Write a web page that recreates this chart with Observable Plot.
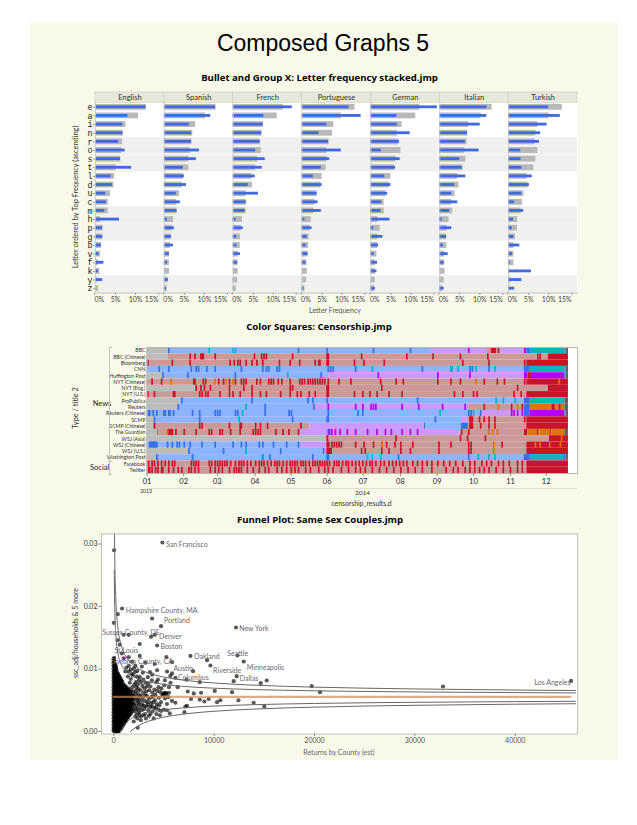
<!DOCTYPE html>
<html><head><meta charset="utf-8">
<script src="https://cdn.jsdelivr.net/npm/d3@7"></script>
<script src="https://cdn.jsdelivr.net/npm/@observablehq/plot@0.6"></script>
<style>
html,body{margin:0;padding:0;background:#fff;}
#page{position:relative;width:637px;height:825px;overflow:hidden;font-family:Lato,sans-serif;}
#panel{position:absolute;left:30px;top:22px;width:588px;height:738px;background:#f9f9ea;}
.abs{position:absolute;white-space:nowrap;}
.slot{position:absolute;}
.slot svg{display:block;background:transparent!important;overflow:visible;}
.h{font-family:"Open Sans",sans-serif;font-weight:700;font-size:9.6px;color:#000;transform:translateX(-50%);}
.t{font-size:7px;color:#555;transform:translateX(-50%);}
.r{font-size:7.4px;color:#333;transform:translate(-50%,-50%) rotate(-90deg);}
</style></head><body><div id="page"><div id="panel"></div></div>
<script>
// ---------- Bullet chart data ----------
const letters = ["e","a","i","n","r","o","s","t","l","d","u","c","m","h","p","g","b","v","f","k","y","z"];
const languages = ["English","Spanish","French","Portuguese","German","Italian","Turkish"];
const bandLetters = ["r","o","s","t","m","h","p","g","y","z"];
const englishBlue = [12.6,8.1,6.8,6.75,5.8,7.4,6.25,9,3.9,4.2,2.6,2.7,2.3,6,1.75,1.85,1.45,0.9,2.1,0.7,1.8,0.1];
const englishGray = [12.75,10.75,7.6,7,6.75,6.5,6.3,5.2,4.75,4.6,3.75,3.2,3.2,1.3,1.9,1.75,1.5,1.25,0.75,1.1,0.4,0.75];
const spanishBlue = [12.8,11.6,6.25,6.8,6.8,8.75,8,4.75,5,5.5,3,4,3.15,0.75,2.5,1.75,2.25,1.25,0.75,0,1,0.5];
const spanishGray = [12.9,10.3,7.8,7.1,6.9,6.5,6.1,6.1,4.8,4.5,3.8,3.1,3.2,2.3,2,1.75,1.5,1.3,1.25,1.3,0.9,0.7];
const frenchBlue = [14.75,7.65,7.5,7.1,6.75,5.6,8,7.25,5.5,3.75,6.3,3.25,3,0.7,2.5,0.85,0.9,1.8,1.1,0,0.1,0.15];
const frenchGray = [12.5,11,7.6,7.2,6.75,7,6.1,5.6,4.7,4.8,3.25,3.25,3.2,2.3,2,1.8,1.75,1.2,1.2,1.25,1.1,0.75];
const portugueseBlue = [11.75,14.75,6.2,4.2,6.6,9.8,6.9,4.8,2.8,5,3.75,4,4.8,0.7,2.5,1.3,1,1.5,1,0,0,0.5];
const portugueseGray = [13.2,9.8,7.9,7.6,6.8,6.2,6.2,6,5,4.7,3.75,3.2,2.9,2.3,2,1.75,1.65,1.5,1.2,1.3,1.1,0.7];
const germanBlue = [16.6,6.5,6.6,9.8,7.1,2.6,7.3,6.15,3.45,5,4.2,2.7,2.5,4.75,0.7,3,1.9,0.8,1.65,1.5,0,1.1];
const germanGray = [12.25,11.2,7.75,6.6,7,7.5,6.25,5.9,5,4.6,3.75,3.3,3.3,1.75,2.3,1.7,1.7,1.5,1.1,1.1,1.1,0.9];
const italianBlue = [11.8,11.75,10.1,6.9,6.4,9.8,5,5.6,6.5,3.75,3,4.5,2.5,0.6,3,1.65,0.9,2.1,1.1,0,0,1.1];
const italianGray = [13.1,10.3,7.25,7,6.8,6.25,6.5,5.8,4.5,4.8,3.8,3,3.25,2.3,1.9,1.75,1.75,1.2,1.2,1.3,1.1,0.75];
const turkishBlue = [10,12.9,9.6,8,7.7,3,3.1,3.3,5.9,5.2,3.3,1.5,3.75,1.2,0.9,1.3,2.8,1,0.4,5.7,3.3,1.5];
const turkishGray = [13.4,10.1,7.3,6.8,6.6,7.3,6.8,6.3,4.6,4.9,3.8,3.5,3.1,2.25,2.2,1.7,1.3,1.3,1.3,0.3,0.6,0.3];
const blueSeries = [englishBlue,spanishBlue,frenchBlue,portugueseBlue,germanBlue,italianBlue,turkishBlue];
const graySeries = [englishGray,spanishGray,frenchGray,portugueseGray,germanGray,italianGray,turkishGray];

// ---------- Censorship data (day index of the study window) ----------
const outlets = ["BBC","BBC (Chinese)","Bloomberg","CNN","Huffington Post","NYT (Chinese)","NYT (Eng.)","NYT (U.S.)","ProPublica","Reuters","Reuters (Chinese)","SCMP","SCMP (Chinese)","The Guardian","WSJ (Asia)","WSJ (Chinese)","WSJ (U.S.)","Washington Post","Facebook","Twitter"];
const stateNames = ["g","l","b","r","R","p","P","t","o","d"];
const stateColors = ["#bcbcbc","#8cb4ff","#3a6ee8","#cc9999","#c8142b","#cc99ff","#b400ff","#0ab5b5","#e07400","#606060"];
const monthTicks = [1,31.8,60.1,91.8,122,152.3,182.5,213.9,244.7,275.2,306.3,336.3];
const monthLabels = ["01","02","03","04","05","06","07","08","09","10","11","12"];
const runs = {
 "BBC":[[1,"g"],[19,"l"],[240,"p"],[287,"r"],[290,"R"],[295,"r"],[298,"p"],[318,"P"],[320,"b"],[323,"t"],[352,"b"],[353,"d"],[355]],
 "BBC (Chinese)":[[1,"g"],[19,"r"],[338,"R"],[355]],
 "Bloomberg":[[1,"r"],[320,"R"],[355]],
 "CNN":[[1,"l"],[318,"b"],[323,"t"],[352,"b"],[353,"d"],[355]],
 "Huffington Post":[[1,"g"],[14,"l"],[154,"p"],[318,"P"],[321,"R"],[324,"P"],[352,"b"],[353,"d"],[355]],
 "NYT (Chinese)":[[1,"r"],[320,"R"],[355]],
 "NYT (Eng.)":[[1,"g"],[42,"r"],[338,"R"],[355]],
 "NYT (U.S.)":[[1,"r"],[320,"R"],[355]],
 "ProPublica":[[1,"g"],[29,"l"],[318,"b"],[323,"t"],[352,"d"],[355]],
 "Reuters":[[1,"g"],[27,"l"],[142,"p"],[271,"r"],[318,"b"],[323,"o"],[341,"R"],[344,"o"],[347,"R"],[349,"o"],[352,"d"],[355]],
 "Reuters (Chinese)":[[1,"l"],[283,"p"],[318,"b"],[323,"P"],[352,"b"],[353,"d"],[355]],
 "SCMP":[[1,"g"],[7,"l"],[266,"p"],[271,"r"],[320,"R"],[355]],
 "SCMP (Chinese)":[[1,"g"],[6,"r"],[138,"p"],[234,"b"],[235,"l"],[265,"b"],[271,"r"],[320,"R"],[355]],
 "The Guardian":[[1,"g"],[10,"d"],[11,"r"],[130,"p"],[264,"r"],[318,"R"],[321,"o"],[329,"R"],[330,"o"],[340,"R"],[341,"o"],[352,"d"],[355]],
 "WSJ (Asia)":[[1,"g"],[152,"R"],[154,"r"],[339,"R"],[355]],
 "WSJ (Chinese)":[[1,"l"],[130,"p"],[152,"R"],[155,"r"],[320,"R"],[355]],
 "WSJ (U.S.)":[[1,"g"],[36,"l"],[149,"p"],[152,"R"],[157,"r"],[320,"R"],[355]],
 "Washington Post":[[1,"g"],[9,"l"],[318,"b"],[323,"t"],[351,"b"],[353,"d"],[355]],
 "Facebook":[[1,"r"],[320,"R"],[355]],
 "Twitter":[[1,"r"],[320,"R"],[355]]
};
const spikes = {
 "BBC":{b:[19,128,152,191,222],t:[53,73,75],P:[271],R:[296]},
 "BBC (Chinese)":{R:[37,41,46,47,48,58,91,97,99,101,123,152,153,181,219,241,264,287,329,331]},
 "Bloomberg":{R:[1.5,22,37,70.5,74,77,79,84,89,93,98,112,121,129,142,145,146,152,153,175,183,200,266,288,318]},
 "CNN":{b:[11,19,38,42,44,51,58,80,98,101,103,110,112,153,155,157,176,232,272,274,288,318],t:[190,256,257,262,277,293]},
 "Huffington Post":{b:[14,35,75,147],t:[119],P:[195,245,272]},
 "NYT (Chinese)":{R:[5,13,40,41,48,50,61,65,70,75,80,82,84,93,96,103,105,107,111,114,121,129,131,133,136,138,140,142,144,146,148,150,153,162,172,197,210,216,245,256,264,284,295,301,318],o:[21,58,67,73,277,347]},
 "NYT (Eng.)":{R:[42,46,49,54,70,82,89,121,123,152,153,198,312]},
 "NYT (U.S.)":{R:[1.5,7,23,24,45,47,50,52,62,70,73,79,89,96,101,113,121,127,130,137,142,152,153,175,182,188,194,204,215,259,266,275,278,309,315]},
 "ProPublica":{b:[30,89,136,140,152,228],t:[294,300,310]},
 "Reuters":{b:[27,100,141],t:[84],P:[153,176,182,189,191,193,215,229,249,268],R:[284,307,316],o:[296,312]},
 "Reuters (Chinese)":{b:[2,3,6,9,15,16,19,20,23,39,45,58,60,62,75,77,100,120,122,153,178,182,271,273,281],t:[81,247,275],P:[307,309,312,316]},
 "SCMP":{b:[7,45,123,152,153,243],t:[78],R:[272,273,274,280,284,288,293,318]},
 "SCMP (Chinese)":{R:[7,45,47,70,79,80,92,96,102,130,272,273,274,281,288,293]},
 "The Guardian":{b:[153],P:[154,156,159,163,169,176,186,194,201,206,215,222,228],R:[19,20,21,22,25,32,42,53,55,62,64,71,79,90,92,94,96,109,115,120,128,265,271],o:[18,288,291,295]},
 "WSJ (Asia)":{R:[210,264,270,285],o:[349]},
 "WSJ (Chinese)":{b:[3,4,5,6,7,8,9,18,22,26,28,32,37,47,58,73,80,84,95,98,107,118,128],R:[156,158,160,162,164,176,183,191,198,202,209,214,224,246,256,271,273,299],o:[198,292,327,331,339,348]},
 "WSJ (U.S.)":{b:[36,65,113,149],t:[84],R:[181,184,198,204,214,222,246,271,273],o:[292]},
 "Washington Post":{b:[9,39,98,104,140,152,153,212,271,318],t:[186,190,197,279,288,293]},
 "Facebook":{R:[2,5,7,10,13,16,19,22,24,38,40,42,44,53,55,58,60,62,64,66,68,71,75,78,80,82,85,88,92,95,97,99,102,105,108,110,112,115,118,121,123,125,127,130,132,134,137,140,142,144,146,148,150,152,154,158,160,162,165,168,170,173,176,179,182,185,188,190,193,197,200,204,207,210,213,216,219,224,228,232,236,240,245,250,255,260,266,272,276,282,286,290,296,300,305,312,316]},
 "Twitter":{R:[2,3,5,8,10,13,14,19,23,27,30,36,38,41,44,54,58,61,64,70,74,76,78,80,85,90,95,100,103,110,114,118,122,125,128,134,138,145,150,153,157,164,170,176,180,184,190,196,202,208,214,220,226,232,240,252,258,262,268,272,276,280,284,288,294,300,306,312,316]}
};

// ---------- Funnel data ----------
const namedCounties = ["San Francisco","Hampshire County, MA","Portland","Sussex County, DE","Denver","Boston","New York","Seattle","Minneapolis","Oakland","Riverside","Dallas","Los Angeles","St Louis","Sonoma County, CA","Austin","Columbus"];
const labelX = [5200,1200,5000,-1150,4500,4650,12500,11300,13250,8000,9900,12550,41900,70,-250,5950,6400];
const labelY = [.0299,.01935,.01765,.0158,.0152,.0135,.0164,.01245,.01025,.01195,.00965,.0085,.0078,.0129,.0112,.0101,.00865];
const outlierPts = [[4850,.03024],[30,.029],[830,.01968],[400,.01877],[10,.01739],[3820,.01808],[4710,.01685],[4080,.01547],[990,.01547],[1490,.01547],[3720,.01515],[400,.0146],[600,.0139],[4320,.01376],[2590,.014],[12180,.01664],[12320,.01216],[12950,.0112],[7640,.0121],[9300,.01141],[9630,.01056],[7900,.00965],[12250,.00885],[11950,.00805],[14640,.00773],[15240,.00816],[19720,.00725],[20550,.00629],[32800,.0072],[45560,.0081]];
const spreadPts = [[5250,.0119],[5810,.0111],[3150,.011],[4080,.0108],[1830,.0112],[1000,.0117],[1490,.0119],[2590,.0121],[5310,.0096],[5810,.0093],[4320,.0098],[2160,.0105],[1490,.0096],[3820,.0091],[5640,.0089],[6140,.0086],[7240,.0083],[8570,.0079],[15000,.004],[13940,.0046],[12420,.005],[11790,.0063],[10060,.0065],[10620,.005],[10290,.0047],[9460,.0052],[9030,.0048],[8570,.0051],[8700,.0062],[7970,.0061],[7370,.0064],[7300,.0041],[7040,.0031],[5580,.0029],[3980,.0021],[2390,.0006],[1990,.0016],[6140,.0046],[7700,.0052],[7140,.004],[6370,.0071],
[2100,.0095],[2300,.0088],[2500,.0082],[2700,.0079],[2050,.0075],[2250,.0071],[2450,.0068],[2650,.0066],[2850,.0073],[3050,.0069],[3250,.0064],[3450,.0077],[3650,.0072],[3850,.0062],[4050,.0067],[4250,.0079],[4450,.0071],[4650,.0063],[4850,.0058],[5050,.0074],[5250,.0061],[5100,.0062],[5180,.006],[5000,.0061],[5450,.0055],[5650,.0078],[5800,.0049],[2100,.006],[2300,.0056],[2500,.0052],[2700,.0058],[2900,.0054],[3100,.0049],[3300,.0057],[3500,.0052],[3700,.0046],[3900,.0056],[4100,.005],[4300,.0044],[4500,.0054],[4700,.0047],[4900,.006],[5100,.0053],[5300,.0044],[5500,.0062],[2050,.0045],[2250,.0041],[2450,.0046],[2650,.0038],[2850,.0043],[3050,.0036],[3250,.004],[3450,.0034],[3650,.0039],[3850,.0032],[4050,.0037],[4250,.0028],[4450,.0035],[5000,.0035],[2100,.0032],[2300,.0027],[2500,.0031],[2700,.0024],[2950,.0026],[3200,.0021],[3500,.0025],[1500,.0105],[1700,.0099],[1900,.009],[2000,.0101],[1400,.0088],[2800,.0104],[3400,.0087],[1700,.0084],[1250,.0102],[800,.0125],[1150,.0096],
[2200,.0065],[2400,.0061],[2600,.0056],[2750,.0049],[2950,.0062],[3150,.0058],[3350,.0047],[3550,.0066],[3750,.0055],[3950,.0047],[4150,.0059],[4350,.0065],[4550,.0042],[4750,.0069],[2150,.0052],[2350,.0049],[2550,.0043],[2800,.0034],[3000,.0041],[3400,.0043],[3800,.0041],[4200,.0039],[4700,.0033],[5300,.0034],[2200,.0037],[2400,.0035],[2550,.0027],[2150,.0024],[2350,.0021],[2700,.0018],[3100,.0028],[3650,.0028],[4600,.0026],[2200,.0079],[2400,.0075],[2600,.0087],[2950,.0083],[3150,.0078],[3300,.0072],[3800,.0082],[4400,.0083],[5100,.0082],[5500,.0071],[2350,.0097],[2900,.0094],[3600,.0095],[1800,.0092],[1600,.0078],[1850,.0071]];
const denseCols = [
 [-20,[.0002,.0006,.0011,.0016,.0021,.0026,.0031,.0036,.0041,.0046,.0051,.0056,.0061,.0066,.0071,.0076,.0081,.0086,.0091,.0096,.0101,.0106,.0111,.0116]],
 [40,[.0000,.0004,.0009,.0014,.0018,.0023,.0029,.0034,.0038,.0043,.0048,.0054,.0059,.0063,.0068,.0073,.0079,.0084,.0088,.0093,.0098,.0104,.0109,.0113,.0118]],
 [130,[.0002,.0007,.0012,.0017,.0022,.0027,.0032,.0037,.0042,.0047,.0052,.0057,.0062,.0067,.0072,.0077,.0082,.0087,.0092,.0097,.0102,.0108]],
 [180,[.0000,.0005,.0010,.0015,.0019,.0024,.0030,.0035,.0039,.0044,.0049,.0054,.0060,.0064,.0069,.0074,.0079,.0084,.0089,.0094,.0099,.0106]],
 [230,[.0001,.0005,.0011,.0016,.0021,.0026,.0032,.0036,.0041,.0047,.0052,.0057,.0061,.0066,.0071,.0077,.0081,.0086,.0091,.0096,.0103]],
 [290,[.0000,.0003,.0008,.0013,.0018,.0023,.0028,.0033,.0038,.0043,.0048,.0053,.0059,.0064,.0068,.0073,.0078,.0083,.0088,.0093,.0099]],
 [350,[.0003,.0008,.0013,.0019,.0024,.0030,.0035,.0040,.0045,.0050,.0055,.0060,.0065,.0070,.0075,.0080,.0084,.0089,.0094]],
 [410,[.0001,.0005,.0010,.0015,.0021,.0026,.0031,.0036,.0042,.0047,.0052,.0057,.0062,.0067,.0072,.0077,.0082,.0087,.0092]],
 [470,[.0000,.0006,.0011,.0017,.0022,.0027,.0033,.0038,.0043,.0049,.0053,.0058,.0064,.0069,.0074,.0079,.0085,.0091]],
 [530,[.0001,.0006,.0011,.0015,.0020,.0025,.0031,.0036,.0041,.0046,.0051,.0056,.0061,.0066,.0071,.0076,.0082,.0088]],
 [590,[.0003,.0008,.0013,.0018,.0023,.0029,.0034,.0040,.0045,.0050,.0055,.0060,.0066,.0071,.0076,.0081,.0087]],
 [650,[.0005,.0011,.0016,.0021,.0027,.0032,.0038,.0043,.0048,.0053,.0058,.0064,.0069,.0074,.0079,.0085]],
 [710,[.0004,.0009,.0014,.0019,.0025,.0031,.0036,.0041,.0046,.0051,.0056,.0062,.0067,.0072,.0078,.0083]],
 [775,[.0006,.0011,.0016,.0022,.0027,.0033,.0038,.0043,.0048,.0054,.0059,.0065,.0070,.0075,.0081]],
 [840,[.0008,.0013,.0018,.0024,.0029,.0034,.0040,.0045,.0050,.0056,.0061,.0066,.0071,.0080]],
 [900,[.0010,.0015,.0020,.0026,.0031,.0036,.0042,.0047,.0052,.0057,.0063,.0068,.0074]],
 [960,[.0011,.0017,.0022,.0027,.0033,.0038,.0043,.0048,.0054,.0059,.0064,.0069,.0076]],
 [1030,[.0013,.0019,.0024,.0029,.0035,.0040,.0045,.0050,.0056,.0061,.0066,.0071]],
 [1090,[.0015,.0020,.0026,.0031,.0036,.0041,.0047,.0052,.0057,.0062,.0067,.0073]],
 [1150,[.0016,.0022,.0028,.0033,.0038,.0043,.0049,.0054,.0059,.0064,.0070]],
 [1210,[.0017,.0024,.0029,.0034,.0039,.0045,.0049,.0055,.0061,.0065,.0072]],
 [1280,[.0020,.0026,.0031,.0036,.0041,.0047,.0052,.0057,.0062,.0068]],
 [1340,[.0022,.0028,.0033,.0038,.0043,.0048,.0054,.0059,.0066]],
 [1400,[.0023,.0029,.0034,.0040,.0045,.0050,.0055,.0061,.0067]],
 [1460,[.0024,.0031,.0036,.0041,.0046,.0052,.0057,.0063,.0069]],
 [1530,[.0026,.0033,.0038,.0043,.0048,.0053,.0059,.0065]],
 [1590,[.0027,.0034,.0039,.0044,.0050,.0055,.0061]],
 [1660,[.0030,.0035,.0041,.0046,.0051,.0057,.0063]],
 [1720,[.0029,.0036,.0042,.0047,.0053,.0059,.0066]],
 [1850,[.0033,.0040,.0046,.0052,.0058]],
 [1950,[.0036,.0043,.0051,.0057,.0064]]
];
const curveX = [50,100,200,400,700,1000,1500,2000,3000,4000,5000,7000,10000,14000,20000,30000,40000,46000];
const upperOuter = [.0375,.0281,.0215,.0168,.01405,.01266,.01134,.01056,.00963,.00908,.0087,.0082,.00776,.00741,.0071,.00681,.00663,.00656];
const upperInner = [.0258,.01985,.01565,.01267,.01092,.01004,.0092,.00871,.00812,.00777,.00753,.00721,.00693,.00671,.00651,.00633,.00622,.00617];
const lowerInnerX = [680,1000,1500,2000,3000,4000,5000,7000,10000,14000,20000,30000,40000,46000];
const lowerInner = [0,.00096,.0018,.00229,.00288,.00323,.00347,.00379,.00407,.00429,.00449,.00467,.00478,.00483];
const lowerOuterX = [1660,2000,3000,4000,5000,7000,10000,14000,20000,30000,40000,46000];
const lowerOuter = [0,.00044,.00137,.00192,.0023,.0028,.00324,.00359,.0039,.00419,.00437,.00444];
const centerX = [0,45500];
const centerY = [.00555,.00555];

// ---------- helpers ----------
const page = document.getElementById("page");
function place(el,left,top){const d=document.createElement("div");d.className="slot";d.style.left=left+"px";d.style.top=top+"px";d.appendChild(el);page.appendChild(d);}
function text(str,cls,left,top,extra){const d=document.createElement("div");d.className="abs "+cls;d.textContent=str;d.style.left=left+"px";d.style.top=top+"px";if(extra)Object.assign(d.style,extra);page.appendChild(d);}
const uiFont = 'Lato,sans-serif';

// ---------- titles ----------
text("Composed Graphs 5","h",323,27.5,{fontFamily:'"Liberation Sans",sans-serif',fontWeight:"400",fontSize:"23px",lineHeight:"30px"});
text("Bullet and Group X: Letter frequency stacked.jmp","h",319.5,71);
text("Color Squares: Censorship.jmp","h",319,319.5);
text("Funnel Plot: Same Sex Couples.jmp","h",320,513);

// ---------- bullet chart ----------
const bulletRows = languages.flatMap((language,k)=>letters.map((letter,i)=>({language,letter,blue:blueSeries[k][i],gray:graySeries[k][i]})));
const headerRows = languages.map(language=>({language}));
place(Plot.plot({
  width:482,height:11,margin:0,style:{background:"transparent",fontFamily:uiFont,fontSize:"7.5px"},
  x:{domain:languages,padding:0,round:false,axis:null},
  y:{axis:null,domain:[0,1]},
  marks:[
    Plot.barY(headerRows,{x:"language",y1:0,y2:1,fill:"#e7e7db",stroke:"#cfcfc4",strokeWidth:0.7}),
    Plot.text(headerRows,{x:"language",frameAnchor:"middle",text:"language",fill:"#333",fontSize:7.5})
  ]
}),95,91.5);

const tickStyle = {tickSize:2.5,tickPadding:1.5,fontSize:7,stroke:"#aaa",fill:"#444",label:null,tickFormat:d=>d+"%"};
place(Plot.plot({
  width:517,height:208,marginLeft:35,marginRight:0,marginTop:0.5,marginBottom:17.5,
  style:{background:"transparent",fontFamily:uiFont,fontSize:"7px"},
  fx:{domain:languages,padding:0,round:false,axis:null,label:null},
  x:{domain:[0,17.2],label:null},
  y:{domain:letters,padding:0,round:false,label:null},
  marks:[
    Plot.frame({fill:"#fff"}),
    Plot.barX(bandLetters,{x1:()=>0,x2:()=>17.2,y:d=>d,fill:"#f0f0f0"}),
    Plot.barX(bulletRows,{x:"gray",y:"letter",fx:"language",fill:"#b8b8b8",insetTop:1.4,insetBottom:1.4}),
    Plot.barX(bulletRows,{x:"blue",y:"letter",fx:"language",fill:"#4169e1",insetTop:2.9,insetBottom:2.9}),
    Plot.ruleX([0],{stroke:"#c8c8c0",strokeWidth:0.8}),
    Plot.frame({anchor:"bottom",stroke:"#c0c0b8"}),
    Plot.axisX({...tickStyle,ticks:[5,10]}),
    Plot.axisX({...tickStyle,ticks:[0],textAnchor:"start",dx:-1}),
    Plot.axisX({...tickStyle,ticks:[15],textAnchor:"end",dx:3}),
    Plot.axisY({anchor:"left",tickSize:2,tickPadding:1,fontSize:8.4,fontFamily:'"Liberation Mono",monospace',fill:"#222",stroke:"#999",label:null,facetAnchor:"left"})
  ]
}),60,102);
text("Letter ordered by Top Frequency (ascending)","r",75,197);
text("Letter Frequency","t",335,306);

// ---------- censorship chart ----------
const censorRows = outlets.flatMap(outlet=>{
  const rs = runs[outlet];
  const base = rs.slice(0,-1).map((r,i)=>({outlet,start:r[0],end:rs[i+1][0],state:r[1]}));
  const ticks = Object.entries(spikes[outlet]).flatMap(([state,days])=>days.map(d=>({outlet,start:d,end:d+1.4,state})));
  return base.concat(ticks);
});
place(Plot.plot({
  width:517,height:158,marginLeft:86.5,marginRight:0,marginTop:7,marginBottom:25,
  style:{background:"transparent",fontFamily:uiFont,fontSize:"5.5px"},
  x:{domain:[1,362.6],label:null},
  y:{domain:outlets,padding:0,round:false,label:null},
  color:{domain:stateNames,range:stateColors},
  marks:[
    Plot.frame({fill:"#fff"}),
    Plot.barX(censorRows,{x1:"start",x2:"end",y:"outlet",fill:"state"}),
    Plot.frame({stroke:"#b8b8b0"}),
    Plot.axisX({ticks:monthTicks,tickFormat:(d,i)=>monthLabels[i],tickSize:3,tickPadding:2,fontSize:7.5,fill:"#222",stroke:"#888",label:null}),
    Plot.axisY({tickSize:0,tickPadding:1.5,fontSize:5.2,fill:"#333",label:null})
  ]
}),60,340);
text("Type / title 2","r",75,408);
text("News","abs",92.7,399,{fontSize:"7.5px",color:"#222"});
text("Social","abs",90,462.5,{fontSize:"7.5px",color:"#222"});
const brk=(top,h)=>{const d=document.createElement("div");d.className="abs";Object.assign(d.style,{left:"108.5px",top:top+"px",width:"2px",height:h+"px",border:"1px solid #c4c4b8",borderRight:"none"});page.appendChild(d);};
brk(347,113);brk(461,12);
const axisLine=document.createElement("div");axisLine.className="abs";Object.assign(axisLine.style,{left:"146px",top:"487.5px",width:"431px",height:"1px",background:"#deded2"});page.appendChild(axisLine);
text("2013","t",146,488,{fontSize:"5px",color:"#333"});
text("2014","t",362.5,488.5,{fontSize:"6.5px",color:"#333"});
text("censorship_results.d","t",361.5,499,{fontSize:"6.8px",color:"#333"});

// ---------- funnel plot ----------
const densePts = denseCols.flatMap(([x,ys])=>ys.map(y=>[x,y]));
const allPts = outlierPts.concat(spreadPts,densePts);
const labelRows = namedCounties.map((name,i)=>({name,x:labelX[i],y:labelY[i]}));
const line = (xs,ys)=>xs.map((x,i)=>({x,y:ys[i]}));
const curveOpts = {x:"x",y:"y",stroke:"#666",strokeWidth:1,curve:"monotone-x",clip:true};
place(Plot.plot({
  width:517,height:227,marginLeft:41,marginRight:0,marginTop:13.5,marginBottom:13.5,
  style:{background:"transparent",fontFamily:uiFont,fontSize:"7px"},
  x:{domain:[-1220,46200],label:null},
  y:{domain:[-.0004,.0316],label:null},
  marks:[
    Plot.frame({fill:"#fff"}),
    Plot.dot(allPts,{x:d=>d[0],y:d=>d[1],r:2.1,fill:"#000",fillOpacity:.65,stroke:"none"}),
    Plot.line(line(curveX,upperOuter),curveOpts),
    Plot.line(line(curveX,upperInner),curveOpts),
    Plot.line(line(lowerInnerX,lowerInner),curveOpts),
    Plot.line(line(lowerOuterX,lowerOuter),curveOpts),
    Plot.line(line(centerX,centerY),{x:"x",y:"y",stroke:"#c98a5a",strokeWidth:2.2,strokeOpacity:.7}),
    Plot.frame({stroke:"#c0c0b8"}),
    Plot.text(labelRows,{x:"x",y:"y",text:"name",textAnchor:"start",fill:"#6d6670",fontSize:7}),
    Plot.axisX({ticks:[0,10000,20000,30000,40000],tickFormat:"d",tickSize:2.5,tickPadding:2,fontSize:7,fill:"#555",stroke:"#888",label:null}),
    Plot.axisY({ticks:[0,.01,.02,.03],tickFormat:".2f",tickSize:2.5,tickPadding:1.5,fontSize:7,fill:"#334",stroke:"#888",label:null})
  ]
}),60,520);
text("ssc_adj/households & 5 more","r",75,633,{fontSize:"7px",color:"#335"});
text("Returns by County (est)","t",339,748,{fontSize:"7px",color:"#666"});
</script></body></html>
